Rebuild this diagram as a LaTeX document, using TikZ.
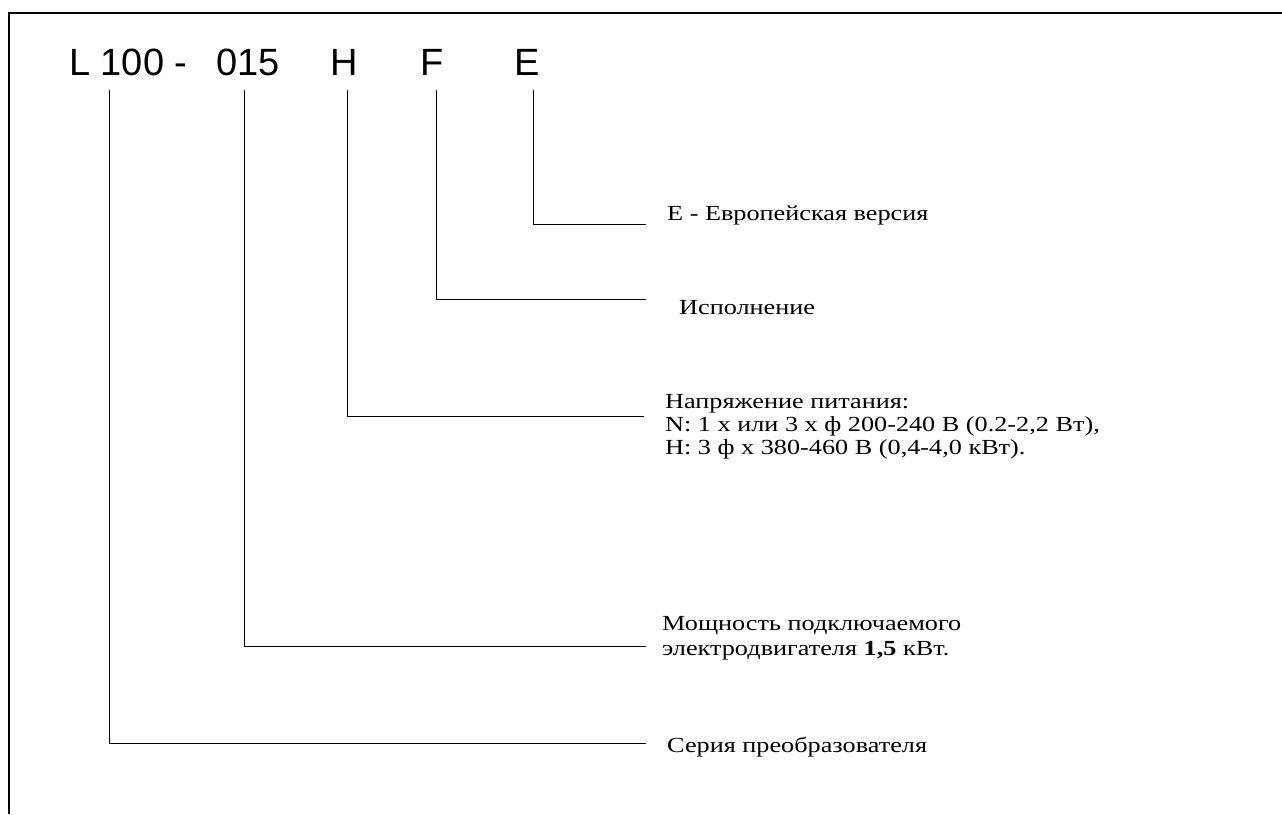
\documentclass[tikz,border=0pt]{standalone}
\usepackage{fontspec}
\setmainfont{Liberation Serif}[FakeStretch=1.22]
\newfontfamily\codefont{Liberation Sans}
\usetikzlibrary{positioning}
\tikzset{rahmen/.style={line width=2pt}}
\tikzset{leitung/.style={line width=0.9pt}}
\tikzset{kode/.style={anchor=base west,inner sep=0pt,font=\codefont\fontsize{38}{40}\selectfont}}
\tikzset{erkl/.style={anchor=base west,inner sep=0pt,font=\fontsize{21.5}{23}\selectfont}}

\begin{document}
\begin{tikzpicture}[
                x=1pt, y=-1pt
            ]
                \useasboundingbox (0,0) rectangle (1282,814);
                \draw[rahmen] (1282,12.5) -- (8.5,12.5) -- (8.5,814);

                % Kennzeichnung
                \node[kode] (kL) at (69,75) {L 100 -};
                \node[kode] (k015) at (216,75) {015};
                \node[kode] (kH) at (330,75) {H};
                \node[kode] (kF) at (420,75) {F};
                \node[kode] (kE) at (514,75) {E};

                % Erklaerungen
                \node[erkl] (tE) at (667,220) {E - Европейская версия};
                \node[erkl] (tF) at (679,314) {Исполнение};
                \node[erkl] (tH) at (665,408) {Напряжение питания:};
                \node[erkl] (tHa) at (665,431) {N: 1 х или 3 х ф 200-240 В (0.2-2,2 Вт),};
                \node[erkl] (tHb) at (665,454) {Н: 3 ф х 380-460 В (0,4-4,0 кВт).};
                \node[erkl] (t015) at (662,630) {Мощность подключаемого};
                \node[erkl] (t015a) at (662,655) {электродвигателя \textbf{1,5} кВт.};
                \node[erkl] (tL) at (667,752) {Серия преобразователя};

                \coordinate (sL) at (109,90);
                \coordinate (s015) at (244,90);
                \coordinate (sH) at (347,90);
                \coordinate (sF) at (436,90);
                \coordinate (sE) at (533,90);
                \coordinate (eL) at (646,743);
                \coordinate (e015) at (646,646);
                \coordinate (eH) at (644,416);
                \coordinate (eF) at (646,299);
                \coordinate (eE) at (646,224);

                \draw[leitung] (sL) |- (eL);
                \draw[leitung] (s015) |- (e015);
                \draw[leitung] (sH) |- (eH);
                \draw[leitung] (sF) |- (eF);
                \draw[leitung] (sE) |- (eE);
            \end{tikzpicture}
\end{document}
